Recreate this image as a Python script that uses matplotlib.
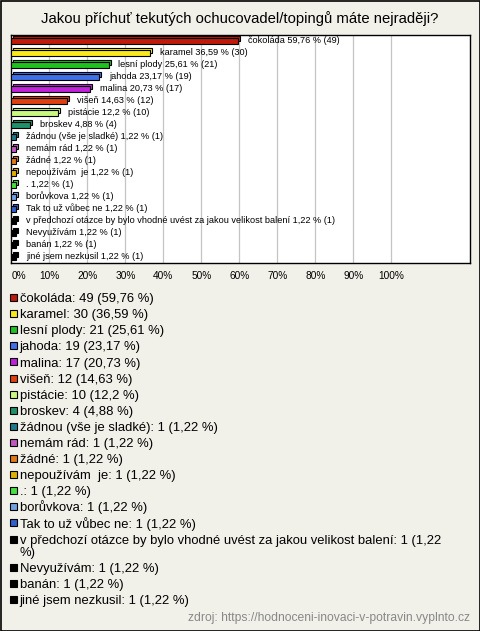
import matplotlib.pyplot as plt
from matplotlib.patches import Rectangle

plt.rcParams['font.family'] = ['Liberation Sans', 'DejaVu Sans']

# data
labels = ["čokoláda", "karamel", "lesní plody", "jahoda", "malina", "višeň",
          "pistácie", "broskev", "žádnou (vše je sladké)", "nemám rád", "žádné",
          "nepoužívám  je", ".", "borůvkova", "Tak to už vůbec ne",
          "v předchozí otázce by bylo vhodné uvést za jakou velikost balení",
          "Nevyužívám", "banán", "jiné jsem nezkusil"]
counts = [49, 30, 21, 19, 17, 12, 10, 4, 1, 1, 1, 1, 1, 1, 1, 1, 1, 1, 1]
percents = [59.76, 36.59, 25.61, 23.17, 20.73, 14.63, 12.2, 4.88,
            1.22, 1.22, 1.22, 1.22, 1.22, 1.22, 1.22, 1.22, 1.22, 1.22, 1.22]
colors = ["#c01a0a", "#f8e81c", "#20c020", "#4070e8", "#c020d8", "#e04010",
          "#c8f880", "#20906a", "#207888", "#c058c0", "#e07818", "#e0b000",
          "#48e040", "#70a0e0", "#3060c8", "#000000", "#000000", "#000000", "#000000"]
ticks = [0, 10, 20, 30, 40, 50, 60, 70, 80, 90, 100]

W, H = 480, 631
bg = "#f2f1e9"

def fmt(v):
    s = ("%.2f" % v).rstrip("0").rstrip(".")
    return s.replace(".", ",")

fig = plt.figure(figsize=(W / 100, H / 100), dpi=100, facecolor=bg)
fig.patches.append(Rectangle((0.5 / W, 0.5 / H), 1 - 1 / W, 1 - 1 / H, transform=fig.transFigure,
                             fill=False, edgecolor="black", lw=1.2))

fig.text(0.5, 1 - 19 / H, "Jakou příchuť tekutých ochucovadel/topingů máte nejraději?",
         ha="center", va="center", fontsize=10.7)

ax = fig.add_axes([11.3 / W, 1 - 263 / H, (470 - 11.3) / W, 228 / H])
ax.set_facecolor("white")
for s in ax.spines.values():
    s.set_linewidth(1.0)
    s.set_color("black")

n = len(labels)
ax.set_xlim(0, (470 - 11.3) / 3.8)
ax.set_ylim(n - 0.5, -0.5)
for t in ticks[1:]:
    ax.axvline(t, color="#c4c4c4", lw=0.9, zorder=0)

ypos = list(range(n))
dx, dy = 0.55, 0.2
ax.barh([y - dy for y in ypos], percents, left=dx, height=0.42,
        color=colors, edgecolor="black", lw=0.8, zorder=2)
ax.barh(ypos, percents, height=0.42, color=colors,
        edgecolor="black", lw=0.8, zorder=3)
for y, p, c, lab in zip(ypos, percents, counts, labels):
    ax.text(p + 2.6, y - 0.08, "%s %s %% (%d)" % (lab, fmt(p), c),
            va="center", ha="left", fontsize=6.6, zorder=4)

ax.set_yticks([])
ax.set_xticks(ticks)
ax.set_xticklabels(["%d%%" % t for t in ticks], fontsize=7.3)
ax.tick_params(axis="x", length=0, pad=5.5)
ax.get_xticklabels()[0].set_ha("left")

# legend below the chart
y = 297.5
for lab, c, p, col in zip(labels, counts, percents, colors):
    txt = "%s: %d (%s %%)" % (lab, c, fmt(p))
    lines = [txt]
    if len(txt) > 70:
        lines = [txt[:-3], txt[-2:]]
    fig.patches.append(Rectangle((10 / W, 1 - (y + 3.5) / H), 7 / W, 7 / H,
                                 transform=fig.transFigure, facecolor=col,
                                 edgecolor="black", lw=0.8))
    for i, line in enumerate(lines):
        fig.text(19.5 / W, 1 - (y + 4.6 + 12.3 * i) / H, line, ha="left",
                 va="baseline", fontsize=9.4)
    y += 16.1 + 12.3 * (len(lines) - 1)

fig.text(470 / W, 1 - 618 / H, "zdroj: https://hodnoceni-inovaci-v-potravin.vyplnto.cz",
         ha="right", va="center", fontsize=8.7, color="#888888")

fig.savefig("out.png", dpi=100, facecolor=bg)
